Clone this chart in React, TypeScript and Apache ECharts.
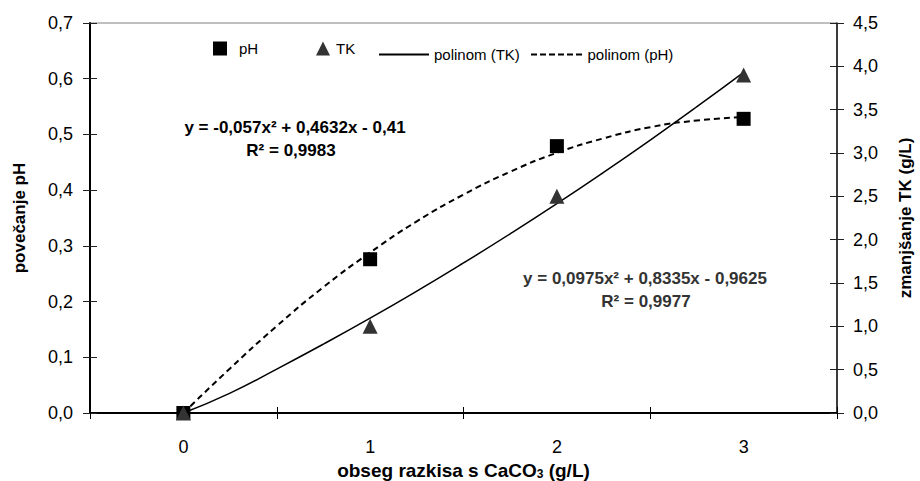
import React, { useEffect, useRef } from "react";
import * as echarts from "echarts";

const categories = ["0", "1", "2", "3"];
const xValues = [0, 1, 2, 3];
const phValues = [0, 0.276, 0.479, 0.528];
const tkValues = [0, 1.0, 2.5, 3.9];

// trendline points
const trendX = [0, 0.25, 0.5, 0.75, 1, 1.25, 1.5, 1.75, 2, 2.25, 2.5, 2.75, 3];
const phTrend = [0, 0.08, 0.156, 0.226, 0.288, 0.344, 0.392, 0.433, 0.467, 0.493, 0.513, 0.525, 0.531];
const tkTrend = [0, 0.23, 0.507, 0.795, 1.094, 1.406, 1.731, 2.067, 2.415, 2.776, 3.149, 3.534, 3.93];

const phTicks = [0, 0.7, 0.1];
const tkTicks = [0, 4.5, 0.5];

const eqPh = "y = -0,057x² + 0,4632x - 0,41";
const r2Ph = "R² = 0,9983";
const eqTk = "y = 0,0975x² + 0,8335x - 0,9625";
const r2Tk = "R² = 0,9977";

const FONT = "Liberation Sans, Arial, sans-serif";

const SOLID_ICON = "path://M0,0H50V2H0Z";
const DASH_ICON =
  "path://M0,0H6V2H0Z M9,0H15V2H9Z M18,0H24V2H18Z M27,0H33V2H27Z M36,0H42V2H36Z M45,0H51V2H45Z";

export default function App() {
  const ref = useRef<HTMLDivElement>(null);
  useEffect(() => {
    if (!ref.current) return;
    const chart = echarts.init(ref.current, null, { renderer: "svg" });
    const fmt1 = (v: number) => v.toFixed(1).replace(".", ",");
    const labelStyle = { fontSize: 18, color: "#000", fontFamily: FONT };
    const nameStyle = { fontSize: 17, fontWeight: "bold", color: "#000", fontFamily: FONT };
    const legendText = (pad: number) => ({
      fontSize: 15,
      color: "#000",
      fontFamily: FONT,
      padding: [0, 0, 0, pad],
    });
    const eqFont = `bold 17px ${FONT}`;
    chart.setOption({
      animation: false,
      backgroundColor: "#fff",
      grid: {
        left: 90,
        right: 83,
        top: 23,
        bottom: 68,
        show: true,
        borderColor: "#808080",
        borderWidth: 1,
        containLabel: false,
        outerBoundsMode: "none",
      },
      legend: [
        {
          data: [{ name: "pH", icon: "rect" }],
          left: 208,
          top: 36,
          itemWidth: 14,
          itemHeight: 14,
          textStyle: legendText(7),
        },
        {
          data: [{ name: "TK", icon: "triangle" }],
          left: 311,
          top: 36,
          itemWidth: 14,
          itemHeight: 14,
          textStyle: legendText(1),
        },
        {
          data: [{ name: "polinom (TK)", icon: SOLID_ICON }],
          left: 374,
          top: 42,
          itemWidth: 50,
          itemHeight: 2,
          textStyle: legendText(0),
        },
        {
          data: [{ name: "polinom (pH)", icon: DASH_ICON }],
          left: 526,
          top: 42,
          itemWidth: 52,
          itemHeight: 2,
          textStyle: legendText(0),
        },
      ],
      xAxis: [
        {
          type: "category",
          data: categories,
          boundaryGap: true,
          position: "bottom",
          axisLine: { show: true, onZero: false, lineStyle: { color: "#000", width: 2 } },
          axisTick: { show: true, length: 6, lineStyle: { color: "#000" } },
          axisLabel: { ...labelStyle, margin: 25 },
          splitLine: { show: false },
          name: "{a|obseg razkisa s CaCO}{s|3}{a| (g/L)}",
          nameLocation: "middle",
          nameGap: 44,
          nameTextStyle: {
            rich: {
              a: { fontSize: 19, fontWeight: "bold", color: "#000", fontFamily: FONT, lineHeight: 20 },
              s: { fontSize: 12, fontWeight: "bold", fontFamily: FONT, color: "#000", lineHeight: 12, verticalAlign: "bottom" },
            },
          },
        },
        {
          type: "category",
          data: categories,
          boundaryGap: true,
          position: "bottom",
          axisLine: { show: false, onZero: false },
          axisTick: { show: true, inside: true, length: 6, lineStyle: { color: "#000" } },
          axisLabel: { show: false },
          splitLine: { show: false },
        },
        {
          type: "value",
          min: -0.5,
          max: 3.5,
          show: false,
        },
      ],
      yAxis: [
        {
          type: "value",
          position: "left",
          min: phTicks[0],
          max: phTicks[1],
          interval: phTicks[2],
          axisLine: { show: true, onZero: false, lineStyle: { color: "#000", width: 2 } },
          axisTick: { show: true, length: 7, lineStyle: { color: "#222" } },
          axisLabel: { ...labelStyle, margin: 17, formatter: fmt1 },
          splitLine: { show: false },
          name: "povečanje pH",
          nameLocation: "middle",
          nameRotate: 90,
          nameGap: 62,
          nameTextStyle: nameStyle,
        },
        {
          type: "value",
          position: "right",
          min: tkTicks[0],
          max: tkTicks[1],
          interval: tkTicks[2],
          axisLine: { show: true, onZero: false, lineStyle: { color: "#111", width: 1.5 } },
          axisTick: { show: true, length: 7, lineStyle: { color: "#222" } },
          axisLabel: { ...labelStyle, margin: 16, formatter: fmt1 },
          splitLine: { show: false },
          name: "zmanjšanje TK (g/L)",
          nameLocation: "middle",
          nameRotate: 90,
          nameGap: 60,
          nameTextStyle: nameStyle,
        },
        {
          type: "value",
          position: "left",
          min: phTicks[0],
          max: phTicks[1],
          interval: phTicks[2],
          axisLine: { show: false, onZero: false },
          axisTick: { show: true, inside: true, length: 7, lineStyle: { color: "#222" } },
          axisLabel: { show: false },
          splitLine: { show: false },
        },
        {
          type: "value",
          position: "right",
          min: tkTicks[0],
          max: tkTicks[1],
          interval: tkTicks[2],
          axisLine: { show: false, onZero: false },
          axisTick: { show: true, inside: true, length: 7, lineStyle: { color: "#222" } },
          axisLabel: { show: false },
          splitLine: { show: false },
        },
      ],
      series: [
        {
          name: "pH",
          type: "scatter",
          xAxisIndex: 2,
          yAxisIndex: 0,
          symbol: "rect",
          symbolSize: 14,
          itemStyle: { color: "#000", opacity: 1 },
          z: 5,
          data: xValues.map((x, i) => [x, phValues[i]]),
        },
        {
          name: "TK",
          type: "scatter",
          xAxisIndex: 2,
          yAxisIndex: 1,
          symbol: "triangle",
          symbolSize: 15,
          itemStyle: { color: "#333", opacity: 1 },
          z: 5,
          data: xValues.map((x, i) => [x, tkValues[i]]),
        },
        {
          name: "polinom (TK)",
          type: "line",
          xAxisIndex: 2,
          yAxisIndex: 1,
          symbol: "none",
          smooth: true,
          lineStyle: { color: "#000", width: 1.5, type: "solid" },
          itemStyle: { color: "#000" },
          z: 3,
          data: trendX.map((x, i) => [x, tkTrend[i]]),
        },
        {
          name: "polinom (pH)",
          type: "line",
          xAxisIndex: 2,
          yAxisIndex: 0,
          symbol: "none",
          smooth: true,
          lineStyle: { color: "#000", width: 2, type: [6, 4] },
          itemStyle: { color: "#000" },
          z: 3,
          data: trendX.map((x, i) => [x, phTrend[i]]),
        },
      ],
      graphic: [
        {
          type: "text",
          x: 295,
          y: 127,
          style: { text: eqPh, font: eqFont, fill: "#000", align: "center", verticalAlign: "middle" },
        },
        {
          type: "text",
          x: 291,
          y: 150,
          style: { text: r2Ph, font: eqFont, fill: "#000", align: "center", verticalAlign: "middle" },
        },
        {
          type: "text",
          x: 645,
          y: 278,
          style: { text: eqTk, font: eqFont, fill: "#333", align: "center", verticalAlign: "middle" },
        },
        {
          type: "text",
          x: 646,
          y: 301,
          style: { text: r2Tk, font: eqFont, fill: "#333", align: "center", verticalAlign: "middle" },
        },
      ],
    });
    return () => chart.dispose();
  }, []);
  return (
    <div
      ref={ref}
      style={{ position: "fixed", left: 0, top: 0, width: 920, height: 481, background: "#fff" }}
    />
  );
}
